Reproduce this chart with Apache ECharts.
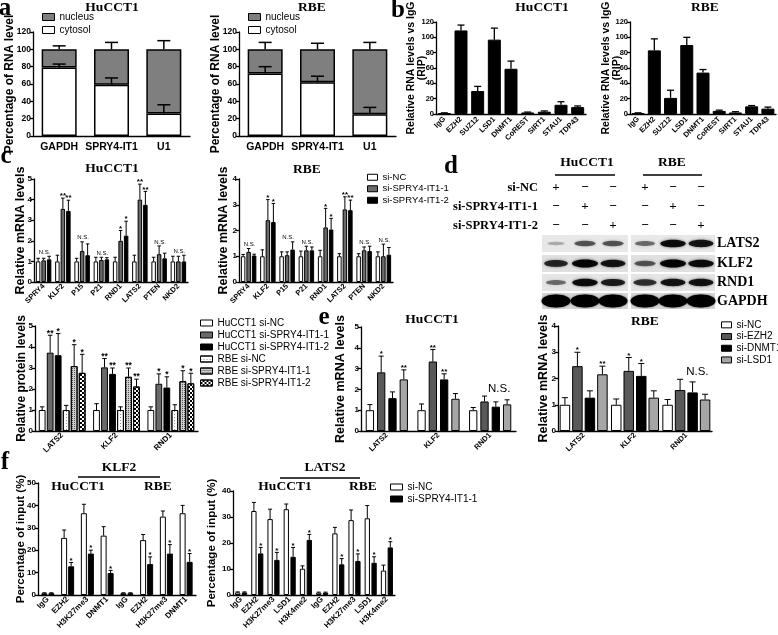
<!DOCTYPE html>
<html><head><meta charset="utf-8">
<script src="https://cdn.jsdelivr.net/npm/echarts@6/dist/echarts.min.js"></script>
<style>html,body{margin:0;padding:0;background:#fff}#c{width:778px;height:635px}</style>
</head><body><div id="c"></div>
<script>
// ---------------- DATA ----------------
const aCats = ['GAPDH', 'SPRY4-IT1', 'U1'];
const a1Cytosol = [79, 59, 26];
const a1CytosolErr = [83, 67, 36];
const a1Nucleus = [21, 41, 74];
const a1TotalErr = [104, 108, 110];
const a2Cytosol = [72, 62, 25];
const a2CytosolErr = [80, 69, 33];
const a2Nucleus = [28, 38, 75];
const a2TotalErr = [108, 107, 108];

const bCats = ['IgG', 'EZH2', 'SUZ12', 'LSD1', 'DNMT1', 'CoREST', 'SIRT1', 'STAU1', 'TDP43'];
const b1Values = [1, 109, 30, 97, 59, 2, 3, 12, 9];
const b1Err = [1.5, 116, 36, 112, 69, 2.5, 4, 16, 10.5];
const b2Values = [1, 83, 21, 90, 54, 4, 2, 10, 7];
const b2Err = [1.5, 98, 31, 100, 58, 5, 3, 11, 9];

const cCats = ['SPRY4', 'KLF2', 'P15', 'P21', 'RND1', 'LATS2', 'PTEN', 'NKD2'];
const c1NC = [1, 1, 1, 1, 1, 1, 1, 1];
const c1NCErr = [1.15, 1.3, 1.15, 1.2, 1.2, 1.3, 1.2, 1.25];
const c1S1 = [1.05, 3.55, 1.5, 1.07, 2.0, 4.0, 1.35, 1.0];
const c1S1Err = [1.15, 4.07, 1.95, 1.2, 2.5, 4.75, 1.75, 1.25];
const c1S2 = [1.1, 3.45, 1.3, 1.1, 2.25, 3.75, 1.15, 1.0];
const c1S2Err = [1.25, 3.97, 1.85, 1.18, 2.95, 4.4, 1.4, 1.3];
const c1S1Sig = ['', '**', '', '', '*', '**', '', ''];
const c1S2Sig = ['', '**', '', '', '*', '**', '', ''];
const c1GroupSig = ['N.S.', '', 'N.S.', 'N.S.', '', '', 'N.S.', 'N.S.'];

const c2NC = [1, 1, 1, 1, 1, 1, 1, 1];
const c2NCErr = [1.07, 1.25, 1.17, 1.2, 1.23, 1.1, 1.1, 1.17];
const c2S1 = [1.17, 2.4, 1.04, 1.23, 2.12, 2.82, 1.23, 1.0];
const c2S1Err = [1.3, 3.2, 1.17, 1.39, 2.86, 3.31, 1.36, 1.47];
const c2S2 = [1.03, 2.33, 1.26, 1.23, 2.04, 2.79, 1.2, 1.06];
const c2S2Err = [1.08, 3.05, 1.56, 1.36, 2.47, 3.18, 1.39, 1.34];
const c2S1Sig = ['', '*', '', '', '*', '**', '', ''];
const c2S2Sig = ['', '*', '', '', '*', '**', '', ''];
const c2GroupSig = ['N.S.', '', 'N.S.', 'N.S.', '', '', 'N.S.', 'N.S.'];

const pCats = ['LATS2', 'KLF2', 'RND1'];
const pHuNC = [1, 1, 1];
const pHuNCErr = [1.15, 1.3, 1.15];
const pHuS1 = [3.73, 3.03, 2.25];
const pHuS1Err = [4.56, 3.45, 2.72];
const pHuS2 = [3.61, 2.72, 2.07];
const pHuS2Err = [4.64, 3.0, 2.58];
const pRbNC = [1, 1, 1];
const pRbNCErr = [1.22, 1.15, 1.25];
const pRbS1 = [3.09, 2.58, 2.37];
const pRbS1Err = [4.11, 3.0, 2.87];
const pRbS2 = [2.77, 2.12, 2.27];
const pRbS2Err = [3.65, 2.47, 2.75];
const pHuS1Sig = ['**', '**', '*'];
const pHuS2Sig = ['*', '**', '*'];
const pRbS1Sig = ['*', '**', '*'];
const pRbS2Sig = ['*', '**', '*'];

const eCats = ['LATS2', 'KLF2', 'RND1'];
const e1NC = [1, 1, 1];
const e1NCErr = [1.27, 1.3, 1.13];
const e1EZH2 = [2.82, 3.34, 1.42];
const e1EZH2Err = [3.6, 3.92, 1.68];
const e1DNMT1 = [1.58, 2.48, 1.17];
const e1DNMT1Err = [1.88, 2.75, 1.4];
const e1LSD1 = [2.48, 1.55, 1.28];
const e1LSD1Err = [2.94, 1.8, 1.5];
const e1EZH2Sig = ['*', '**', ''];
const e1DNMT1Sig = ['', '**', ''];
const e1LSD1Sig = ['**', '', ''];
const e1GroupSig = ['', '', 'N.S.'];
const e2NC = [1, 1, 1];
const e2NCErr = [1.27, 1.22, 1.2];
const e2EZH2 = [2.47, 2.29, 1.56];
const e2EZH2Err = [3.0, 2.8, 1.97];
const e2DNMT1 = [1.27, 2.1, 1.47];
const e2DNMT1Err = [1.53, 2.57, 1.87];
const e2LSD1 = [2.16, 1.27, 1.2];
const e2LSD1Err = [2.47, 1.53, 1.4];
const e2EZH2Sig = ['*', '*', ''];
const e2DNMT1Sig = ['', '*', ''];
const e2LSD1Sig = ['**', '', ''];
const e2GroupSig = ['', '', 'N.S.'];

const f1Cats = ['IgG', 'EZH2', 'H3K27me3', 'DNMT1', 'IgG', 'EZH2', 'H3K27me3', 'DNMT1'];
const f1NC = [0.8, 25.5, 36.5, 26.5, 0.8, 24.5, 35, 36.5];
const f1NCErr = [1.0, 29, 40.5, 30.5, 1.0, 27, 37.5, 40];
const f1S1 = [0.8, 12.8, 18.5, 9.8, 0.8, 13.8, 18.5, 14.8];
const f1S1Err = [1.0, 14.5, 20, 11, 1.0, 17, 22.5, 18.5];
const f1S1Sig = ['', '*', '*', '*', '', '*', '*', '*'];
const f2Cats = ['IgG', 'EZH2', 'H3K27me3', 'LSD1', 'H3K4me2', 'IgG', 'EZH2', 'H3K27me3', 'LSD1', 'H3K4me2'];
const f2NC = [1, 32.3, 29.2, 33, 10.1, 0.9, 23.7, 28.8, 29.5, 9.4];
const f2NCErr = [1.2, 35.6, 33, 35, 11.2, 1.1, 26, 32.7, 34.4, 11.5];
const f2S1 = [1, 16, 13.5, 14.7, 21.2, 0.9, 11.8, 13.1, 12.4, 18.3];
const f2S1Err = [1.2, 18.3, 16.4, 18.3, 23.3, 1.1, 14, 15.8, 14.7, 20.5];
const f2S1Sig = ['', '*', '*', '*', '*', '', '*', '*', '*', '*'];

// western blot band intensities (0..1), lanes: HuCCT1 NC, si-1, si-2, RBE NC, si-1, si-2
const blotLATS2 = [0.25, 0.6, 0.6, 0.5, 0.95, 0.9];
const blotKLF2 = [0.8, 1.0, 0.9, 0.6, 1.0, 0.95];
const blotRND1 = [0.5, 0.95, 0.85, 0.75, 0.9, 0.9];
const blotGAPDH = [1, 1, 1, 1, 1, 1];
const blotRows = ['LATS2', 'KLF2', 'RND1', 'GAPDH'];
const dPlus = [['+', '−', '−', '+', '−', '−'], ['−', '+', '−', '−', '+', '−'], ['−', '−', '+', '−', '−', '+']];
const dRowLabels = ['si-NC', 'si-SPRY4-IT1-1', 'si-SPRY4-IT1-2'];

// ---------------- STYLE ----------------
const SANS = '"Liberation Sans Narrow", "Arial Narrow", "Liberation Sans", Arial, sans-serif';
const SERIF = '"Liberation Serif", "Times New Roman", serif';
const WHITE = '#ffffff', DGREY = '#6a6a6a', BLACK = '#000000', LGREY = '#a6a6a6', NGREY = '#7f7f7f';
const decalDots = {symbol: 'rect', symbolSize: 1, dashArrayX: [1, 2], dashArrayY: [1, 2], color: '#8a8a8a'};
const decalFine = {symbol: 'rect', symbolSize: 1, dashArrayX: [1, 1], dashArrayY: [1, 1], color: '#555'};
const decalChecker = {symbol: 'rect', symbolSize: 1, dashArrayX: [[2, 2], [0, 2, 2, 0]], dashArrayY: [2, 0], color: '#000'};

const option = {animation: false, backgroundColor: '#fff', textStyle: {fontFamily: SANS},
  grid: [], xAxis: [], yAxis: [], series: [], legend: [], graphic: {elements: []}};
const gfx = option.graphic.elements;

function errSeries(i, n, idx, barW, gap, cap, lw, lo, hi, sig, sigFont) {
  const data = lo.map((v, j) => [j, v, hi[j]]);
  return {type: 'custom', xAxisIndex: i, yAxisIndex: i, z: 5, silent: true, data,
    renderItem: (params, api) => {
      const j = api.value(0);
      const p0 = api.coord([j, api.value(1)]);
      const p1 = api.coord([j, api.value(2)]);
      const x = p0[0] + (idx - (n - 1) / 2) * (barW + gap);
      const ch = [
        {type: 'line', shape: {x1: x, y1: p0[1], x2: x, y2: p1[1]}, style: {stroke: '#000', lineWidth: lw}},
        {type: 'line', shape: {x1: x - cap / 2, y1: p1[1], x2: x + cap / 2, y2: p1[1]}, style: {stroke: '#000', lineWidth: lw}}
      ];
      const s = sig ? sig[params.dataIndex] : '';
      if (s) ch.push({type: 'text', style: {text: s, x: x, y: p1[1] - 2, textAlign: 'center', align: 'center',
        textVerticalAlign: 'middle', verticalAlign: 'middle', font: 'bold ' + sigFont + 'px ' + SANS, fill: '#000'}});
      return {type: 'group', children: ch};
    }};
}

function groupSeries(i, labels, errs, font, dx, bold) {
  const data = [], texts = [];
  labels.forEach((s, j) => {
    if (!s) return;
    data.push([j, Math.max(...errs.map(e => e.hi[j]))]);
    texts.push(s);
  });
  return {type: 'custom', xAxisIndex: i, yAxisIndex: i, z: 6, silent: true, data,
    renderItem: (params, api) => {
      const pt = api.coord([api.value(0), api.value(1)]);
      return {type: 'text', style: {text: texts[params.dataIndex], x: pt[0] + dx, y: pt[1] - 1,
        textAlign: 'center', align: 'center', textVerticalAlign: 'bottom', verticalAlign: 'bottom',
        font: (bold ? 'bold ' : '') + font + 'px ' + SANS, fill: '#000'}};
    }};
}

function addPanel(p) {
  const i = option.grid.length;
  const [l, t, w, h] = p.box;
  option.grid.push({left: l, top: t, width: w, height: h, containLabel: false, outerBoundsMode: 'none'});
  option.xAxis.push({type: 'category', gridIndex: i, data: p.cats, boundaryGap: true,
    axisLine: {show: true, onZero: false, lineStyle: {color: '#000', width: 1.3}},
    axisTick: {show: false}, splitLine: {show: false},
    axisLabel: {show: true, interval: 0, hideOverlap: false, rotate: p.rot, fontSize: p.xFont, fontWeight: 'bold',
      fontFamily: SANS, color: '#000', margin: p.xMargin}});
  option.yAxis.push({type: 'value', gridIndex: i, min: 0, max: p.ymax, interval: p.step,
    name: p.yName, nameLocation: 'middle', nameGap: p.nameGap, nameMoveOverlap: false,
    nameTextStyle: {fontSize: p.nameSize, fontWeight: 'bold', fontFamily: SANS, color: '#000', align: 'center',
      lineHeight: Math.round(p.nameSize * 1.05)},
    axisLine: {show: true, lineStyle: {color: '#000', width: 1.3}},
    axisTick: {show: true, length: 3, lineStyle: {color: '#000', width: 1.3}},
    splitLine: {show: false},
    axisLabel: {fontSize: p.yFont, fontWeight: 'bold', fontFamily: SANS, color: '#000', margin: 2, hideOverlap: false}});
  const n = p.stack ? 1 : p.bars.length;
  p.bars.forEach(b => {
    const s = {type: 'bar', name: b.name, xAxisIndex: i, yAxisIndex: i, data: b.data, barWidth: p.barW,
      barGap: p.stack ? '0%' : (p.gap / p.barW * 100).toFixed(2) + '%',
      itemStyle: {color: b.color, borderColor: '#000', borderWidth: p.bw},
      emphasis: {disabled: true}, silent: true, z: 2};
    if (p.stack) s.stack = p.stack;
    if (b.decal) s.itemStyle.decal = b.decal;
    option.series.push(s);
  });
  p.errs.forEach(e => option.series.push(errSeries(i, n, e.idx, p.barW, p.gap, p.cap, p.lw, e.lo, e.hi, e.sig, p.sigFont)));
  if (p.groupSig) option.series.push(groupSeries(i, p.groupSig, p.errs, p.gsFont, p.gsDx, p.gsBold));
}

function addLegend(names, left, top, font, lh, iw, ih, overrides) {
  option.legend.push({orient: 'vertical', left, top, padding: 0, itemGap: 0, itemWidth: iw, itemHeight: ih,
    icon: 'rect', selectedMode: false, width: 200,
    textStyle: {fontSize: font, fontFamily: SANS, color: '#000', lineHeight: lh, overflow: 'none'},
    itemStyle: {borderColor: '#000', borderWidth: 1},
    data: names.map(nm => (overrides && overrides[nm]) ? {name: nm, itemStyle: overrides[nm]} : nm)});
}

function txt(text, x, y, font, align, valign) {
  align = align || 'center'; valign = valign || 'middle';
  gfx.push({type: 'text', x, y, silent: true, z: 10,
    style: {text, font, fill: '#000', textAlign: align, align, textVerticalAlign: valign, verticalAlign: valign}});
}
function hline(x1, x2, y, w) {
  gfx.push({type: 'line', silent: true, z: 10, shape: {x1, y1: y, x2, y2: y}, style: {stroke: '#000', lineWidth: w || 1.5}});
}

// ---------------- PANEL a ----------------
addPanel({box: [33, 32, 157, 104], cats: aCats, ymax: 120, step: 20, yName: 'Percentage of RNA level', nameGap: 17,
  nameSize: 12, rot: 0, xFont: 10.5, xMargin: 6, yFont: 8.5, barW: 35, gap: 0, stack: 'a1', bw: 1.5, cap: 13, lw: 1.5,
  bars: [{name: 'cytosol', data: a1Cytosol, color: WHITE}, {name: 'nucleus', data: a1Nucleus, color: NGREY}],
  errs: [{idx: 0, lo: a1Cytosol, hi: a1CytosolErr}, {idx: 0, lo: a1Cytosol.map((v, j) => v + a1Nucleus[j]), hi: a1TotalErr}]});
addPanel({box: [239, 32, 157, 104], cats: aCats, ymax: 120, step: 20, yName: 'Percentage of RNA level', nameGap: 17,
  nameSize: 12, rot: 0, xFont: 10.5, xMargin: 6, yFont: 8.5, barW: 35, gap: 0, stack: 'a2', bw: 1.5, cap: 13, lw: 1.5,
  bars: [{name: 'cytosol', data: a2Cytosol, color: WHITE}, {name: 'nucleus', data: a2Nucleus, color: NGREY}],
  errs: [{idx: 0, lo: a2Cytosol, hi: a2CytosolErr}, {idx: 0, lo: a2Cytosol.map((v, j) => v + a2Nucleus[j]), hi: a2TotalErr}]});
addLegend(['nucleus', 'cytosol'], 42, 10.5, 10, 13, 12, 7);
addLegend(['nucleus', 'cytosol'], 248, 10.5, 10, 13, 12, 7);

// ---------------- PANEL b ----------------
addPanel({box: [436, 22, 150, 92], cats: bCats, ymax: 120, step: 20, yName: 'Relative RNA levels vs IgG\n(RIP)', nameGap: 8,
  nameSize: 10.5, rot: 45, xFont: 7.5, xMargin: 4, yFont: 7.5, barW: 13, gap: 0, bw: 1, cap: 7, lw: 1.3,
  bars: [{name: 'HuCCT1 RIP', data: b1Values, color: BLACK}], errs: [{idx: 0, lo: b1Values, hi: b1Err}]});
addPanel({box: [630, 22, 146, 92], cats: bCats, ymax: 120, step: 20, yName: 'Relative RNA levels vs IgG\n(RIP)', nameGap: 7,
  nameSize: 10.5, rot: 45, xFont: 7.5, xMargin: 4, yFont: 7.5, barW: 13, gap: 0, bw: 1, cap: 7, lw: 1.3,
  bars: [{name: 'RBE RIP', data: b2Values, color: BLACK}], errs: [{idx: 0, lo: b2Values, hi: b2Err}]});

// ---------------- PANEL c (mRNA) ----------------
addPanel({box: [34, 179, 154, 103], cats: cCats, ymax: 5, step: 1, yName: 'Relative mRNA levels', nameGap: 7,
  nameSize: 12.5, rot: 45, xFont: 7.5, xMargin: 3, yFont: 8, barW: 4.5, gap: 1, bw: 1, cap: 3.5, lw: 1, sigFont: 8,
  bars: [{name: 'si-NC', data: c1NC, color: WHITE}, {name: 'si-SPRY4-IT1-1', data: c1S1, color: DGREY}, {name: 'si-SPRY4-IT1-2', data: c1S2, color: BLACK}],
  errs: [{idx: 0, lo: c1NC, hi: c1NCErr}, {idx: 1, lo: c1S1, hi: c1S1Err, sig: c1S1Sig}, {idx: 2, lo: c1S2, hi: c1S2Err, sig: c1S2Sig}],
  groupSig: c1GroupSig, gsFont: 6, gsDx: 1, gsBold: false});
addPanel({box: [239, 179, 154, 103], cats: cCats, ymax: 4, step: 1, yName: 'Relative mRNA levels', nameGap: 9,
  nameSize: 12.5, rot: 45, xFont: 7.5, xMargin: 3, yFont: 8, barW: 4.5, gap: 1, bw: 1, cap: 3.5, lw: 1, sigFont: 8,
  bars: [{name: 'si-NC', data: c2NC, color: WHITE}, {name: 'si-SPRY4-IT1-1', data: c2S1, color: DGREY}, {name: 'si-SPRY4-IT1-2', data: c2S2, color: BLACK}],
  errs: [{idx: 0, lo: c2NC, hi: c2NCErr}, {idx: 1, lo: c2S1, hi: c2S1Err, sig: c2S1Sig}, {idx: 2, lo: c2S2, hi: c2S2Err, sig: c2S2Sig}],
  groupSig: c2GroupSig, gsFont: 6, gsDx: 1, gsBold: false});
addLegend(['si-NC', 'si-SPRY4-IT1-1', 'si-SPRY4-IT1-2'], 367, 171.5, 9.5, 11.5, 10, 6);

// ---------------- PANEL c (protein) ----------------
addPanel({box: [35, 326, 163, 105], cats: pCats, ymax: 5, step: 1, yName: 'Relative protein levels', nameGap: 7,
  nameSize: 12, rot: 45, xFont: 8, xMargin: 3, yFont: 8, barW: 6.8, gap: 1.2, bw: 1, cap: 4.5, lw: 1, sigFont: 8.5,
  bars: [{name: 'HuCCT1 si-NC', data: pHuNC, color: WHITE}, {name: 'HuCCT1 si-SPRY4-IT1-1', data: pHuS1, color: DGREY},
    {name: 'HuCCT1 si-SPRY4-IT1-2', data: pHuS2, color: BLACK}, {name: 'RBE si-NC', data: pRbNC, color: WHITE, decal: decalDots},
    {name: 'RBE si-SPRY4-IT1-1', data: pRbS1, color: '#cfcfcf', decal: decalFine}, {name: 'RBE si-SPRY4-IT1-2', data: pRbS2, color: WHITE, decal: decalChecker}],
  errs: [{idx: 0, lo: pHuNC, hi: pHuNCErr}, {idx: 1, lo: pHuS1, hi: pHuS1Err, sig: pHuS1Sig}, {idx: 2, lo: pHuS2, hi: pHuS2Err, sig: pHuS2Sig},
    {idx: 3, lo: pRbNC, hi: pRbNCErr}, {idx: 4, lo: pRbS1, hi: pRbS1Err, sig: pRbS1Sig}, {idx: 5, lo: pRbS2, hi: pRbS2Err, sig: pRbS2Sig}]});
addLegend(['HuCCT1 si-NC', 'HuCCT1 si-SPRY4-IT1-1', 'HuCCT1 si-SPRY4-IT1-2', 'RBE si-NC', 'RBE si-SPRY4-IT1-1', 'RBE si-SPRY4-IT1-2'],
  200, 317, 10, 12, 12, 6);

// ---------------- PANEL e ----------------
addPanel({box: [361, 327, 155, 104], cats: eCats, ymax: 5, step: 1, yName: 'Relative mRNA levels', nameGap: 14,
  nameSize: 12.5, rot: 45, xFont: 7.5, xMargin: 3, yFont: 8, barW: 8.3, gap: 3, bw: 1, cap: 5, lw: 1, sigFont: 8,
  bars: [{name: 'si-NC', data: e1NC, color: WHITE}, {name: 'si-EZH2', data: e1EZH2, color: '#595959'},
    {name: 'si-DNMT1', data: e1DNMT1, color: BLACK}, {name: 'si-LSD1', data: e1LSD1, color: LGREY}],
  errs: [{idx: 0, lo: e1NC, hi: e1NCErr}, {idx: 1, lo: e1EZH2, hi: e1EZH2Err, sig: e1EZH2Sig},
    {idx: 2, lo: e1DNMT1, hi: e1DNMT1Err, sig: e1DNMT1Sig}, {idx: 3, lo: e1LSD1, hi: e1LSD1Err, sig: e1LSD1Sig}],
  groupSig: e1GroupSig, gsFont: 11.5, gsDx: 9, gsBold: false});
addPanel({box: [558, 326, 154, 105], cats: eCats, ymax: 4, step: 1, yName: 'Relative mRNA levels', nameGap: 8,
  nameSize: 12.5, rot: 45, xFont: 7.5, xMargin: 3, yFont: 8, barW: 10.5, gap: 2, bw: 1, cap: 6, lw: 1, sigFont: 8,
  bars: [{name: 'si-NC', data: e2NC, color: WHITE}, {name: 'si-EZH2', data: e2EZH2, color: '#595959'},
    {name: 'si-DNMT1', data: e2DNMT1, color: BLACK}, {name: 'si-LSD1', data: e2LSD1, color: LGREY}],
  errs: [{idx: 0, lo: e2NC, hi: e2NCErr}, {idx: 1, lo: e2EZH2, hi: e2EZH2Err, sig: e2EZH2Sig},
    {idx: 2, lo: e2DNMT1, hi: e2DNMT1Err, sig: e2DNMT1Sig}, {idx: 3, lo: e2LSD1, hi: e2LSD1Err, sig: e2LSD1Sig}],
  groupSig: e2GroupSig, gsFont: 11.5, gsDx: 11, gsBold: false});
addLegend(['si-NC', 'si-EZH2', 'si-DNMT1', 'si-LSD1'], 721, 319, 10, 11.7, 10, 6);

// ---------------- PANEL f ----------------
addPanel({box: [38, 483, 158, 112], cats: f1Cats, ymax: 50, step: 10, yName: 'Percentage of input (%)', nameGap: 11,
  nameSize: 11.5, rot: 45, xFont: 8, xMargin: 3, yFont: 8, barW: 6, gap: 1, bw: 1, cap: 4, lw: 1, sigFont: 8,
  bars: [{name: 'si-NC', data: f1NC, color: WHITE}, {name: 'si-SPRY4-IT1-1', data: f1S1, color: BLACK}],
  errs: [{idx: 0, lo: f1NC, hi: f1NCErr}, {idx: 1, lo: f1S1, hi: f1S1Err, sig: f1S1Sig}]});
addPanel({box: [233, 491, 162, 104], cats: f2Cats, ymax: 40, step: 10, yName: 'Percentage of input (%)', nameGap: 15,
  nameSize: 11.5, rot: 45, xFont: 8, xMargin: 3, yFont: 8, barW: 5.3, gap: 1.5, bw: 1, cap: 4, lw: 1, sigFont: 8,
  bars: [{name: 'si-NC', data: f2NC, color: WHITE}, {name: 'si-SPRY4-IT1-1', data: f2S1, color: BLACK}],
  errs: [{idx: 0, lo: f2NC, hi: f2NCErr}, {idx: 1, lo: f2S1, hi: f2S1Err, sig: f2S1Sig}]});
addLegend(['si-NC', 'si-SPRY4-IT1-1'], 390, 481, 10, 12, 12, 6, {'si-SPRY4-IT1-1': {color: '#000'}});

// ---------------- TEXT: letters and titles ----------------
const LET = 'bold 25px ' + SERIF;
txt('a', 5, 9, LET); txt('b', 398, 11, LET); txt('c', 6, 156.5, LET);
txt('d', 451, 167, LET); txt('e', 324, 317.5, LET); txt('f', 5, 463, LET);
const TT = 'bold 13.5px ' + SERIF;
txt('HuCCT1', 112, 8, TT); txt('RBE', 312, 8, TT);
txt('HuCCT1', 542, 8, TT); txt('RBE', 705, 8, TT);
txt('HuCCT1', 112, 169, TT); txt('RBE', 307, 170, TT);
txt('HuCCT1', 432, 320, TT); txt('RBE', 645, 322, TT);
txt('KLF2', 119, 468, TT); hline(78, 160, 477);
txt('HuCCT1', 78, 487, TT); txt('RBE', 158, 487, TT);
txt('LATS2', 325, 468, TT); hline(280, 360, 478);
txt('HuCCT1', 285, 487, TT); txt('RBE', 363, 487, TT);

// ---------------- PANEL d (western blot) ----------------
txt('HuCCT1', 587, 163, TT); hline(555, 615, 175);
txt('RBE', 672, 163, TT); hline(643, 702, 175);
const laneX = [556, 585, 613, 645, 673, 701];
const rowY = [188, 207, 226];
dRowLabels.forEach((lab, r) => {
  txt(lab, 538, rowY[r], 'bold 12.5px ' + SERIF, 'right');
  dPlus[r].forEach((s, k) => txt(s, laneX[k], rowY[r], 'bold 13px ' + SERIF));
});
const stripY = [[235, 252], [255, 272], [274, 291], [293, 309]];
const stripX = [[542, 628], [631, 715]];
const stripBg = ['#e8e8e8', '#e0e0e0', '#e5e5e5', '#d6d6d6'];
const blotData = [blotLATS2, blotKLF2, blotRND1, blotGAPDH];
blotRows.forEach((name, r) => {
  const [y0, y1] = stripY[r];
  stripX.forEach(([x0, x1]) => gfx.push({type: 'rect', silent: true, z: 1,
    shape: {x: x0, y: y0, width: x1 - x0, height: y1 - y0}, style: {fill: stripBg[r]}}));
  const cy = (y0 + y1) / 2;
  blotData[r].forEach((a, k) => {
    const full = r === 3;
    gfx.push({type: 'ellipse', silent: true, z: 2,
      shape: {cx: laneX[k], cy: cy, rx: full ? 14.5 : 7 + 6 * a, ry: full ? 6.5 : 1 + 3 * a},
      style: {fill: 'rgba(0,0,0,' + (full ? 1 : a * 0.95) + ')', shadowBlur: full ? 2 : 3, shadowColor: 'rgba(0,0,0,' + (a * 0.7) + ')'}});
  });
  txt(name, 717, cy, 'bold 14px ' + SERIF, 'left');
});

const chart = echarts.init(document.getElementById('c'), null, {renderer: 'canvas', width: 778, height: 635});
chart.setOption(option);
</script></body></html>
